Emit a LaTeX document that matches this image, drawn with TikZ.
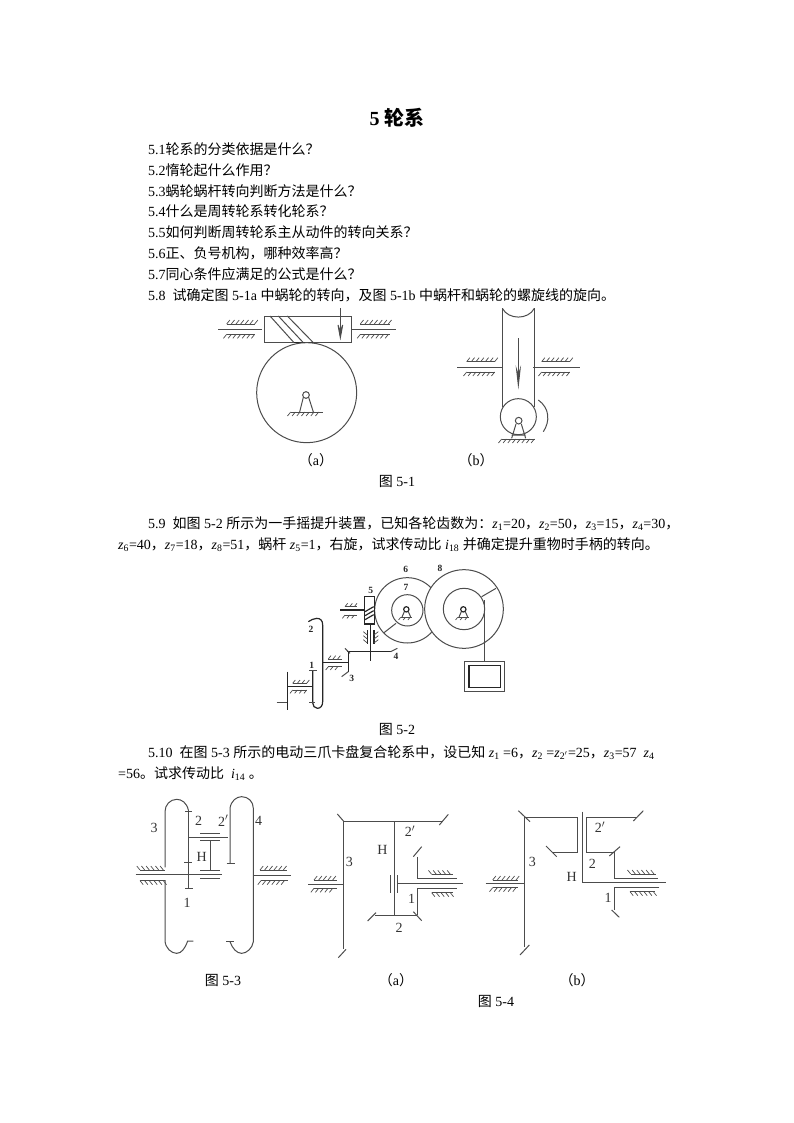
\documentclass[tikz,border=0pt]{standalone}
\usepackage{fontspec}
\setmainfont{Liberation Serif}
\newfontfamily\cjk{Noto Sans CJK SC}
\newcommand{\C}[1]{{\cjk #1}}
\newcommand{\Zs}[1]{\textit{z}\textsubscript{#1}}
\newcommand{\Hatch}[5]{%
  \draw[hl] (#1,#3)--(#2,#3);
  \pgfmathtruncatemacro{\nn}{(#2-#1)/14}
  \foreach \i in {0,...,\nn}{\draw[hl] ({#1+\i*14},#3)--({#1+\i*14-(#5)*(#4)},{#3+#4});}
}
\tikzset{
  hl/.style={line width=0.7pt,black!70},
  ml/.style={line width=1pt,black!70},
  tl/.style={line width=1.2pt,black!85},
  txt/.style={anchor=base west,inner sep=0pt,font=\fontsize{14}{14}\selectfont},
  captxt/.style={anchor=center,inner sep=0pt,font=\fontsize{14}{14}\selectfont},
  lab/.style={anchor=center,inner sep=0pt,font=\fontsize{14}{14}\selectfont,black!80},
  sml/.style={anchor=center,inner sep=0pt,font=\bfseries\fontsize{9.5}{10}\selectfont,black!85},
  zoomA/.style={shift={(#1)},x=0.33333pt,y=-0.33333pt},
}
\begin{document}
\begin{tikzpicture}[x=1pt,y=-1pt]
\useasboundingbox (0,0) rectangle (794,1123);
\node[anchor=center,inner sep=0pt,font=\bfseries\fontsize{20}{20}\selectfont] (title) at (397,118) {5 \C{\bfseries 轮系}};
\node[txt] (q1) at (148,154.5) {5.1\C{轮系的分类依据是什么？}};
\node[txt] (q2) at (148,175.5) {5.2\C{惰轮起什么作用？}};
\node[txt] (q3) at (148,196.5) {5.3\C{蜗轮蜗杆转向判断方法是什么？}};
\node[txt] (q4) at (148,217) {5.4\C{什么是周转轮系转化轮系？}};
\node[txt] (q5) at (148,237.5) {5.5\C{如何判断周转轮系主从动件的转向关系？}};
\node[txt] (q6) at (148,258.5) {5.6\C{正、负号机构，哪种效率高？}};
\node[txt] (q7) at (148,279) {5.7\C{同心条件应满足的公式是什么？}};
\node[txt] (q8) at (148,300) {5.8~~\C{试确定图} 5-1a \C{中蜗轮的转向，及图} 5-1b \C{中蜗杆和蜗轮的螺旋线的旋向。}};
\node[captxt] (ca) at (316,460) {\C{（}a\C{）}};
\node[captxt] (cb) at (476,460) {\C{（}b\C{）}};
\node[captxt] (f1) at (397,481) {\C{图} 5-1};
\node[txt] (q9a) at (148,528) {5.9~~\C{如图} 5-2 \C{所示为一手摇提升装置，已知各轮齿数为：}\Zs{1}=20\C{，}\Zs{2}=50\C{，}\Zs{3}=15\C{，}\Zs{4}=30\C{，}};
\node[txt] (q9b) at (118,549) {\Zs{6}=40\C{，}\Zs{7}=18\C{，}\Zs{8}=51\C{，蜗杆} \Zs{5}=1\C{，右旋，试求传动比} \textit{i}\textsubscript{18} \C{并确定提升重物时手柄的转向。}};
\node[captxt] (f2) at (397,729) {\C{图} 5-2};
\node[txt] (q10a) at (148,757) {5.10~~\C{在图} 5-3 \C{所示的电动三爪卡盘复合轮系中，设已知} \Zs{1} =6\C{，}\Zs{2} =\Zs{2$'$}=25\C{，}\Zs{3}=57~~\Zs{4}};
\node[txt] (q10b) at (118,778) {=56\C{。试求传动比}~~\textit{i}\textsubscript{14}~\C{。}};
\node[captxt] (f3) at (223,980) {\C{图} 5-3};
\node[captxt] (c4a) at (396,980) {\C{（}a\C{）}};
\node[captxt] (c4b) at (577,980) {\C{（}b\C{）}};
\node[captxt] (f4) at (496,1001) {\C{图} 5-4};

% Fig 5-1
\begin{scope}[zoomA={200,300}]
\draw[ml] (192,48) rectangle (455,128);
\draw[ml] (210,48)--(282,128) (235,48)--(310,128) (262,48)--(340,128);
\draw[tl] (282,128)--(340,128);
\draw[ml] (320,278) circle (150);
\draw[ml] (55,87)--(187,87) (457,87)--(587,87);
\Hatch{80}{165}{72}{-12}{0.8}
\Hatch{80}{165}{103}{12}{0.8}
\Hatch{481}{570}{72}{-12}{0.8}
\Hatch{481}{570}{103}{12}{0.8}
\draw[ml] (421,25)--(421,115);
\draw[ml,fill=black!75] (414,75)--(421,113)--(428,75)--(421,95)--cycle;
\draw[ml] (318,285) circle (10);
\draw[ml] (310,292)--(299,336) (326,292)--(340,336);
\Hatch{272}{368}{336}{12}{0.8}
% b
\draw[ml] (907,25)--(907,320) (1003,25)--(1003,320);
\draw[ml] (907,25) .. controls (925,60) and (985,60) .. (1003,25);
\draw[ml] (772,201)--(905,201) (1000,201)--(1140,201);
\Hatch{800}{885}{185}{-12}{0.8}
\Hatch{800}{885}{216}{12}{0.8}
\Hatch{1025}{1110}{185}{-12}{0.8}
\Hatch{1025}{1110}{216}{12}{0.8}
\draw[ml] (955,115)--(955,255);
\draw[ml,fill=black!75] (950,210)--(955,255)--(960,210)--(955,225)--cycle;
\draw[ml] (955,350) circle (54);
\draw[ml] (956,362) circle (10);
\draw[ml] (948,372)--(935,415) (964,372)--(977,415) (935,405)--(977,405);
\Hatch{905}{1005}{417}{12}{0.8}
\draw[ml] (1015,300) .. controls (1050,325) and (1050,365) .. (1030,395);
\end{scope}

% Fig 5-2
\begin{scope}[zoomA={260,555}]
\draw[ml] (442,166) circle (98);
\draw[ml,fill=white] (612,162) circle (118);
\draw[ml,fill=white] (442,166) circle (47);
\draw[ml] (612,162) circle (62);
\draw[ml] (408,205)--(372,233);
\draw[ml] (665,125)--(708,100);
\draw[ml] (672,135)--(672,318);
\draw[ml] (613,318) rectangle (733,408);
\draw[tl] (627,332) rectangle (722,397);
% supports
\draw[tl] (439,163) circle (8);
\draw[ml] (433,170)--(426,186) (445,170)--(452,186);
\Hatch{422}{456}{187}{8}{0.8}
\draw[tl] (610,163) circle (8);
\draw[ml] (604,170)--(597,186) (616,170)--(623,186);
\Hatch{593}{627}{187}{8}{0.8}
% worm
\draw[tl,fill=white] (313,125) rectangle (343,207);
\draw[tl] (315,170)--(341,155) (315,182)--(341,167) (315,194)--(341,179);
\draw[tl] (240,165)--(313,165);
\Hatch{255}{292}{155}{-10}{0.8}
\Hatch{255}{292}{180}{10}{0.8}
\draw[tl] (331,207)--(331,318);
\draw[tl] (322,225)--(322,268) (342,225)--(342,268);
\foreach \yy in {230,242,254}{\draw[hl] (322,\yy+10)--(310,\yy) (342,\yy+10)--(355,\yy);}
\draw[tl] (262,290)--(392,290);
\draw[ml] (255,280)--(270,295) (392,290)--(412,280);
\draw[tl] (265,290)--(265,350);
\draw[ml] (245,365)--(265,350);
\draw[tl] (188,323)--(265,323);
\Hatch{205}{245}{312}{-10}{0.8}
\Hatch{205}{245}{335}{10}{0.8}
\draw[tl] (145,200) .. controls (155,195) and (160,190) .. (170,190) .. controls (182,190) and (188,197) .. (188,210) -- (188,440) .. controls (188,452) and (182,460) .. (172,460) .. controls (164,460) and (158,452) .. (158,443) -- (158,345);
\draw[ml] (148,345)--(170,345) (148,443)--(165,443);
\draw[tl] (82,395)--(158,395);
\draw[tl] (82,350)--(82,465);
\draw[ml] (50,443)--(82,443);
\Hatch{98}{140}{385}{-10}{0.8}
\Hatch{98}{140}{405}{10}{0.8}
\node[sml] (n6) at (437,44) {6};
\node[sml] (n7) at (438,98) {7};
\node[sml] (n8) at (540,40) {8};
\node[sml] (n5) at (332,105) {5};
\node[sml] (n2) at (153,222) {2};
\node[sml] (n1) at (155,330) {1};
\node[sml] (n3) at (275,370) {3};
\node[sml] (n4) at (408,305) {4};
\end{scope}

% Fig 5-3
\begin{scope}[zoomA={125,790}]
\draw[ml] (190,60) .. controls (185,38) and (170,28) .. (155,28) .. controls (135,28) and (120,45) .. (120,65) -- (120,232);
\draw[ml] (120,270)--(120,450) .. controls (120,475) and (140,490) .. (155,490) .. controls (170,490) and (180,475) .. (188,453) -- (205,453);
\draw[ml] (190,60)--(190,295);
\draw[ml] (180,65)--(200,65) (178,218)--(200,218) (180,295)--(205,295);
\draw[ml] (32,253)--(292,253);
\draw[ml] (256,150)--(256,242);
\draw[ml] (190,142)--(310,142);
\draw[ml] (225,130)--(285,130) (225,152)--(285,152) (225,242)--(285,242) (225,265)--(285,265);
\draw[ml] (315,220)--(315,55) .. controls (318,32) and (335,20) .. (350,20) .. controls (370,20) and (385,35) .. (385,55) -- (385,455) .. controls (382,475) and (365,490) .. (350,490) .. controls (335,490) and (322,475) .. (315,455);
\draw[ml] (305,220)--(330,220) (303,455)--(327,455);
\draw[ml] (385,255)--(498,255);
\Hatch{45}{120}{240}{-12}{-0.8}
\Hatch{45}{120}{272}{12}{-0.8}
\Hatch{405}{485}{240}{-12}{0.8}
\Hatch{408}{488}{272}{12}{0.8}
\node[lab] (l33) at (87,115) {3};
\node[lab] (l32) at (221,93) {2};
\node[lab] (l32p) at (295,92) {2$'$};
\node[lab] (l34) at (401,92) {4};
\node[lab] (l3h) at (230,200) {H};
\node[lab] (l31) at (186,340) {1};
\end{scope}

% Fig 5-4a
\begin{scope}[zoomA={320,790}]
\draw[ml] (70,93)--(70,478);
\draw[ml] (52,72)--(72,95) (55,503)--(78,478);
\draw[ml] (-36,283)--(68,283);
\Hatch{-18}{50}{270}{-12}{0.8}
\Hatch{-18}{50}{295}{12}{0.8}
\draw[ml] (70,93)--(368,93);
\draw[ml] (358,105)--(385,73);
\draw[ml] (222,93)--(222,375);
\draw[ml] (165,375)--(292,375);
\draw[ml] (143,393)--(168,368) (280,365)--(305,392);
\draw[ml] (292,295)--(292,375) (292,200)--(292,266);
\draw[ml] (211,255)--(211,310) (233,255)--(233,310);
\draw[ml] (233,280)--(428,280);
\draw[ml] (292,266)--(410,266) (292,295)--(410,295);
\draw[ml] (280,200)--(305,170);
\Hatch{335}{400}{253}{-12}{-0.8}
\Hatch{335}{400}{308}{12}{-0.8}
\node[lab] (l42p) at (270,123) {2$'$};
\node[lab] (l4h) at (187,180) {H};
\node[lab] (l43) at (88,215) {3};
\node[lab] (l41) at (275,328) {1};
\node[lab] (l42) at (237,413) {2};
\end{scope}

% Fig 5-4b
\begin{scope}[zoomA={480,790}]
\draw[ml] (133,82)--(133,470);
\draw[ml] (115,62)--(150,95) (120,495)--(148,465);
\draw[ml] (17,281)--(133,281);
\Hatch{38}{113}{270}{-12}{0.8}
\Hatch{38}{113}{293}{12}{0.8}
\draw[ml] (133,82)--(292,82)--(292,188)--(220,188);
\draw[ml] (198,168)--(230,200);
\draw[ml] (306,65)--(306,278)--(558,278);
\draw[ml] (470,82)--(319,82)--(319,188)--(402,188)--(402,264)--(535,264);
\draw[ml] (460,93)--(490,62) (388,198)--(420,170);
\draw[ml] (538,292)--(402,292)--(402,360);
\draw[ml] (395,360)--(418,382);
\Hatch{452}{527}{252}{-12}{-0.8}
\Hatch{450}{525}{305}{12}{-0.8}
\node[lab] (l53) at (157,215) {3};
\node[lab] (l52p) at (360,112) {2$'$};
\node[lab] (l52) at (337,223) {2};
\node[lab] (l5h) at (275,260) {H};
\node[lab] (l51) at (384,325) {1};
\end{scope}
\end{tikzpicture}
\end{document}
